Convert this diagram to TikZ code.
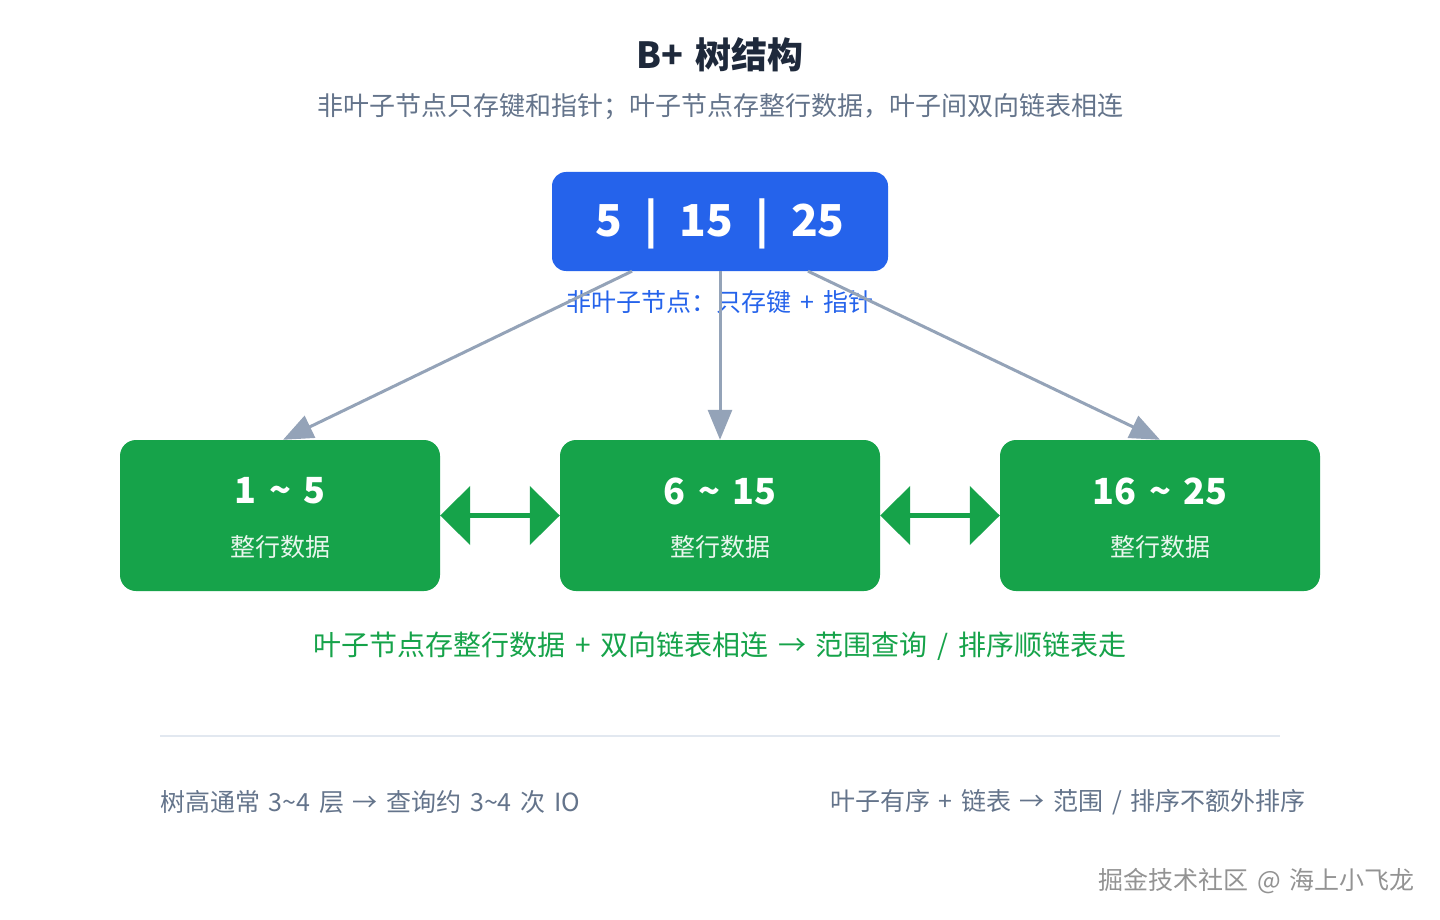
\documentclass[tikz,border=0pt]{standalone}
\usepackage{fontspec}
\setmainfont{Noto Sans CJK SC}[WordSpace=1.55]
\usetikzlibrary{arrows.meta}

\definecolor{rootblue}{HTML}{2563EB}
\definecolor{leafgreen}{HTML}{16A34A}
\definecolor{edgegray}{HTML}{94A3B8}
\definecolor{titlenavy}{HTML}{1E293B}
\definecolor{notegray}{HTML}{64748B}
\definecolor{rulegray}{HTML}{E2E8F0}
\newcommand{\tl}{\textasciitilde}

\begin{document}
\begin{tikzpicture}[x=1pt, y=-1pt,
    rootbox/.style={rectangle, rounded corners=14pt, fill=rootblue, minimum width=336pt, minimum height=99pt, inner sep=0pt},
    leafbox/.style={rectangle, rounded corners=16pt, fill=leafgreen, minimum width=320pt, minimum height=151pt, inner sep=0pt},
    keytext/.style={text=white, font=\bfseries\fontsize{36}{40}\selectfont, inner sep=0pt},
    rowtext/.style={text=white!90!leafgreen, font=\fontsize{25}{30}\selectfont, inner sep=0pt},
    note/.style={text=notegray, font=\fontsize{25}{29}\selectfont, inner sep=0pt},
    pointer/.style={-{Triangle[length=30pt, width=24pt]}, draw=edgegray, line width=3pt},
    link/.style={{Triangle[length=30pt, width=58pt]}-{Triangle[length=30pt, width=58pt]}, draw=leafgreen, line width=5pt}]

    \fill[white] (0,0) rectangle (1440,920);
    \useasboundingbox (0,0) rectangle (1440,920);

    \node (title) at (720,55) [text=titlenavy, font=\bfseries\fontsize{36}{40}\selectfont] {B+ 树结构};
    \node (subtitle) at (720,107) [note, font=\fontsize{26}{30}\selectfont] {非叶子节点只存键和指针；叶子节点存整行数据，叶子间双向链表相连};

    \node (root) at (720,221.5) [rootbox] {};
    \node (rootkeys) at ([yshift=-2pt]root.center) [text=white, font=\bfseries\fontsize{44}{48}\selectfont] {5\hspace{22pt}|\hspace{22pt}15\hspace{22pt}|\hspace{22pt}25};
    \node (rootnote) at (720,302) [text=rootblue, font=\fontsize{25}{30}\selectfont] {非叶子节点：只存键 + 指针};

    \node (leafA) at (280,515.5) [leafbox] {};
    \node (leafB) at (720,515.5) [leafbox] {};
    \node (leafC) at (1160,515.5) [leafbox] {};

    \node (leafAkey) at ([yshift=24.5pt]leafA.center) [keytext] {1 \tl{} 5};
    \node (leafBkey) at ([yshift=24.5pt]leafB.center) [keytext] {6 \tl{} 15};
    \node (leafCkey) at ([yshift=24.5pt]leafC.center) [keytext] {16 \tl{} 25};
    \node (leafArow) at ([yshift=-31.5pt]leafA.center) [rowtext] {整行数据};
    \node (leafBrow) at ([yshift=-31.5pt]leafB.center) [rowtext] {整行数据};
    \node (leafCrow) at ([yshift=-31.5pt]leafC.center) [rowtext] {整行数据};

    \draw[pointer] ([xshift=-88pt]root.south) -- ([xshift=3pt]leafA.north);
    \draw[pointer] (root.south) -- (leafB.north);
    \draw[pointer] ([xshift=88pt]root.south) -- (leafC.north);

    \draw[link] (leafA.east) -- (leafB.west);
    \draw[link] (leafB.east) -- (leafC.west);

    \node (leafnote) at (720,646) [text=leafgreen, font=\fontsize{28}{32}\selectfont] {叶子节点存整行数据 + 双向链表相连 → 范围查询 / 排序顺链表走};

    \coordinate (ruleL) at (160,736);
    \coordinate (ruleR) at (1280,736);
    \draw[rulegray, line width=1.5pt] (ruleL) -- (ruleR);

    \node (heightnote) at (160,802) [note, anchor=west] {树高通常 3\tl4 层 → 查询约 3\tl4 次 IO};
    \node (ordernote) at (1306,802) [note, anchor=east] {叶子有序 + 链表 → 范围 / 排序不额外排序};

    \node (mark) at (1415,881) [text=gray!85, font=\fontsize{25}{29}\selectfont, inner sep=0pt, anchor=east] {掘金技术社区 @ 海上小飞龙};
\end{tikzpicture}
\end{document}
